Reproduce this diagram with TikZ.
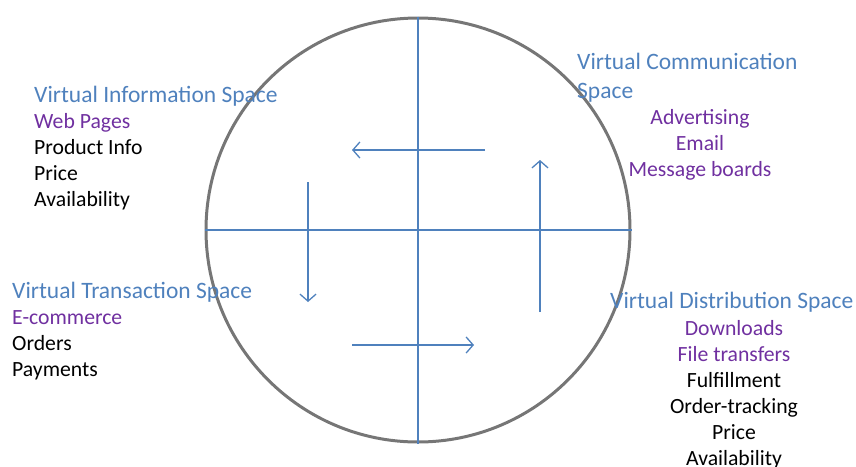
\documentclass[tikz,border=0pt]{standalone}
\usepackage{fontspec}
\setmainfont{Carlito}
\usepackage{xcolor}
\usetikzlibrary{positioning, arrows.meta}
\definecolor{SpaceBlue}{RGB}{79,129,189}
\definecolor{ChannelPurple}{RGB}{112,48,160}
\definecolor{RimGray}{RGB}{118,118,118}
\tikzset{
  spacetitle/.style={anchor=west, inner sep=0pt, text=SpaceBlue, align=left,
    font=\fontsize{23.5}{29}\selectfont},
  itemlist/.style={inner sep=0pt, text=black, font=\fontsize{21.7}{26}\selectfont},
  axis/.style={SpaceBlue, line width=1.3pt},
  flow/.style={-{Straight Barb[length=7pt, width=16pt, line width=1.3pt]}, SpaceBlue, line width=1.3pt},
}
\begin{document}
\begin{tikzpicture}[x=1pt, y=-1pt]
  \useasboundingbox (0,0) rectangle (856,466);
  % the wheel and its two axes
  \node[circle, draw=RimGray, line width=3pt, minimum size=424pt, inner sep=0pt] (wheel) at (418,230) {};
  \draw[axis] (wheel.north) -- (wheel.south);
  \draw[axis] (wheel.west) -- (wheel.east);

  % flow between the spaces
  \coordinate (infoS) at (485,150);  \coordinate (infoE) at (352,150);
  \coordinate (tranS) at (308,182);  \coordinate (tranE) at (308,302);
  \coordinate (distS) at (352,345);  \coordinate (distE) at (474,345);
  \coordinate (commS) at (540,312);  \coordinate (commE) at (540,160);
  \foreach \s/\e in {infoS/infoE, tranS/tranE, distS/distE, commS/commE}
    \draw[flow] (\s) -- (\e);

  % the four spaces
  \node[spacetitle] (infotitle) at (34,96) {Virtual Information Space};
  \node[itemlist, anchor=west, align=left] (infoitems) at (34,162)
    {\textcolor{ChannelPurple}{Web Pages}\\Product Info\\Price\\Availability};

  \node[spacetitle] (commtitle) at (577,77.5) {Virtual Communication\\Space};
  \node[itemlist, align=center, text=ChannelPurple] (commitems) at (700,145)
    {Advertising\\Email\\Message boards};

  \node[spacetitle] (trantitle) at (12,292) {Virtual Transaction Space};
  \node[itemlist, anchor=west, align=left] (tranitems) at (12,345.5)
    {\textcolor{ChannelPurple}{E-commerce}\\Orders\\Payments};

  \node[spacetitle] (disttitle) at (610,302) {Virtual Distribution Space};
  \node[itemlist, align=center] (distitems) at (734,395)
    {\textcolor{ChannelPurple}{Downloads}\\\textcolor{ChannelPurple}{File transfers}\\Fulfillment\\Order-tracking\\Price\\Availability};
\end{tikzpicture}
\end{document}
